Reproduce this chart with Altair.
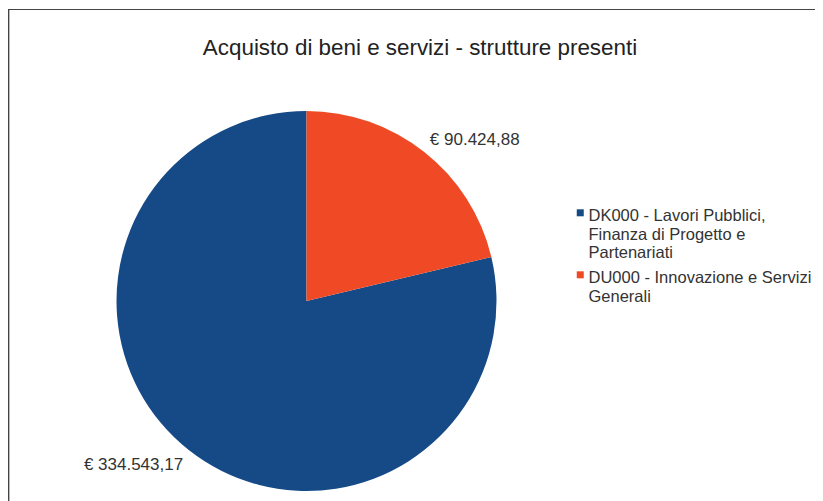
import altair as alt
import pandas as pd

title_text = "Acquisto di beni e servizi - strutture presenti"
legend_lines = [
    ["DK000 - Lavori Pubblici,", "Finanza di Progetto e", "Partenariati"],
    ["DU000 - Innovazione e Servizi", "Generali"],
]
categories = [" ".join(l) for l in legend_lines]
values = [334543.17, 90424.88]
colors = ["#164a86", "#ef4a25"]


def it_euro(v):
    s = f"{v:,.2f}".replace(",", "X").replace(".", ",").replace("X", ".")
    return "€ " + s


df = pd.DataFrame({
    "cat": categories,
    "value": values,
    "label": [it_euro(v) for v in values],
})

# legend label expression: split each category into its wrapped lines
expr = "datum.label"
for cat, lines in zip(categories[::-1], legend_lines[::-1]):
    arr = "[" + ", ".join("'" + l + "'" for l in lines) + "]"
    expr = f"datum.label == '{cat}' ? {arr} : ({expr})"

W, H = 807, 433
CX, CY = 298.5, 233
R = 190
LR = 199
FONT = "Liberation Sans"

base = alt.Chart(df)

color = alt.Color(
    "cat:N",
    scale=alt.Scale(domain=categories, range=colors),
    legend=alt.Legend(
        title=None,
        orient="none",
        legendX=564,
        legendY=132,
        symbolType="M-1,0.3H1V2.3H-1Z",
        symbolSize=49,
        symbolStrokeWidth=0,
        labelFont=FONT,
        labelFontSize=16.5,
        labelColor="#333333",
        labelExpr=expr,
        labelBaseline="top",
        labelLimit=400,
        labelOffset=0,
        rowPadding=-1,
        padding=0,
    ),
)

pie = base.mark_arc(outerRadius=R, strokeWidth=0).encode(
    theta=alt.Theta("value:Q", stack=True),
    order=alt.Order("value:Q", sort="ascending"),
    color=color,
    x=alt.value(CX),
    y=alt.value(CY),
)

lab_base = base.transform_joinaggregate(
    total="sum(value)"
).transform_window(
    cum="sum(value)", sort=[alt.SortField("value", order="ascending")]
).transform_calculate(
    mid="datum.cum - datum.value / 2",
    frac="(datum.cum - datum.value / 2) / datum.total",
)

lab_right = lab_base.transform_filter("datum.frac < 0.5").mark_text(
    font=FONT, fontSize=17, color="#333333", align="left", baseline="alphabetic"
).encode(
    theta=alt.Theta("mid:Q", stack=None),
    radius=alt.value(LR),
    text="label:N",
    x=alt.value(CX),
    y=alt.value(CY),
)

lab_left = lab_base.transform_filter("datum.frac >= 0.5").mark_text(
    font=FONT, fontSize=17, color="#333333", align="right", baseline="top"
).encode(
    theta=alt.Theta("mid:Q", stack=None),
    radius=alt.value(LR),
    text="label:N",
    x=alt.value(CX),
    y=alt.value(CY),
)

frame_top = base.mark_rule(color="#444444", strokeWidth=1.2).encode(
    x=alt.value(0), x2=alt.value(W), y=alt.value(-58.5)
)
frame_left = base.mark_rule(color="#444444", strokeWidth=1.2).encode(
    x=alt.value(0.6), y=alt.value(-58.5), y2=alt.value(H)
)

chart = alt.layer(pie, lab_right, lab_left, frame_top, frame_left).properties(
    width=W,
    height=H,
    background="white",
    autosize=alt.AutoSizeParams(type="none"),
    padding={"left": 0, "top": 60, "right": 0, "bottom": 0},
    title=alt.TitleParams(
        text=title_text,
        font=FONT,
        fontSize=22.4,
        fontWeight="normal",
        color="#222222",
        anchor="middle",
        frame="group",
        dx=8.5,
        baseline="alphabetic",
        offset=-68,
    ),
).configure_view(strokeWidth=0, stroke="transparent")

chart.save("out.html", embed_options={"renderer": "svg", "actions": False})
